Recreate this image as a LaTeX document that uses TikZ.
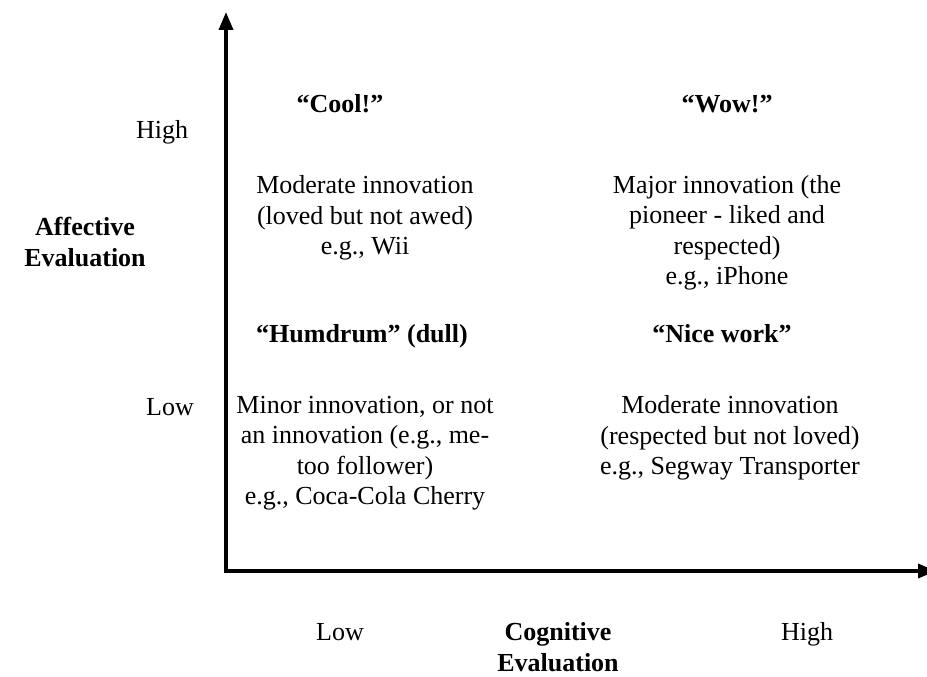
\documentclass[tikz,border=0pt]{standalone}
\usepackage{fontspec}
\setmainfont{Liberation Serif}
\usetikzlibrary{arrows.meta}
\begin{document}
\begin{tikzpicture}[x=1pt,y=-1pt,
  txt/.style={font=\fontsize{26}{30.5}\selectfont, align=center, inner sep=0pt},
  hd/.style={txt, font=\fontsize{26}{30.5}\selectfont\bfseries},
  one/.style={text height=18pt, text depth=6pt},
  axis/.style={line width=3.5pt, {Triangle[width=14pt,length=18pt]}-{Triangle[width=14pt,length=18pt]}}]
\useasboundingbox (0,0) rectangle (927,677);
\coordinate (ytop) at (226,12);
\coordinate (orig) at (226,571);
\coordinate (xend) at (936,571);
\draw[axis] (ytop) -- (orig) -- (xend);
\node[hd,one] (cool) at (340,106) {“Cool!”};
\node[hd,one] (wow) at (727,106) {“Wow!”};
\node[txt,one] (high) at (162,133) {High};
\node[txt] (tl) at (365,218) {Moderate innovation\\(loved but not awed)\\e.g., Wii};
\node[txt] (tr) at (727,233) {Major innovation (the\\pioneer - liked and\\respected)\\e.g., iPhone};
\node[hd] (aff) at (85,242) {Affective\\Evaluation};
\node[hd,one] (hum) at (362,336) {“Humdrum” (dull)};
\node[hd,one] (nice) at (722,336) {“Nice work”};
\node[txt,one] (lowy) at (170,409) {Low};
\node[txt] (bl) at (365,453) {Minor innovation, or not\\an innovation (e.g., me-\\too follower)\\e.g., Coca-Cola Cherry};
\node[txt] (br) at (730,438) {Moderate innovation\\(respected but not loved)\\e.g., Segway Transporter};
\node[txt,one] (lowx) at (340,634) {Low};
\node[hd] (cog) at (558,647) {Cognitive\\Evaluation};
\node[txt,one] (highx) at (807,634) {High};
\end{tikzpicture}
\end{document}
